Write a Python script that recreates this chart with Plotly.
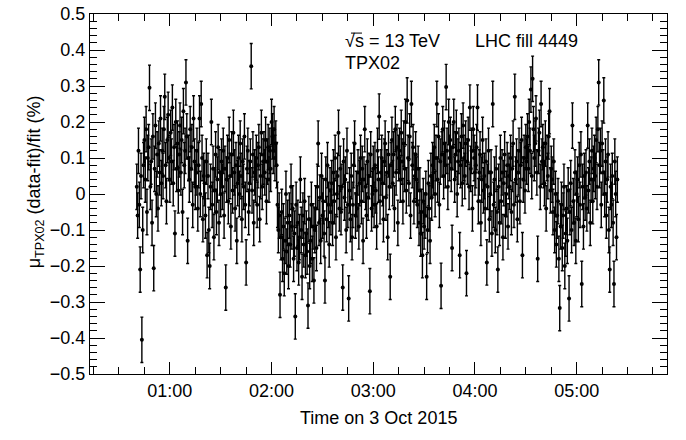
import pandas as pd
import plotly.graph_objects as go

# one point every 30 s, first one at 00:40:30 on 3 Oct 2015
start_time = "2015-10-03 00:40:30"
residual = [
    0.02, -0.06, 0.12, -0.03, -0.21, 0.05, -0.405, -0.1, 0.08, 0.15,
    0.04, 0.18, -0.05, 0.1, 0.13, 0.295, 0.02, 0.09, -0.08, 0.16,
    -0.206, 0.07, 0.19, 0.0, 0.11, -0.04, 0.14, 0.06, 0.21, 0.03,
    0.12, 0.05, 0.18, 0.27, 0.08, -0.02, 0.15, 0.22, 0.1, 0.04,
    0.17, 0.09, 0.24, 0.03, 0.13, -0.11, 0.2, 0.07, 0.14, 0.01,
    0.11, 0.19, 0.06, 0.15, -0.05, 0.23, 0.08, 0.12, 0.31, 0.16,
    -0.13, 0.1, 0.04, 0.18, 0.07, 0.13, -0.03, 0.21, 0.09, 0.02,
    0.06, 0.12, -0.04, 0.08, 0.21, 0.0, 0.25, 0.1, -0.07, 0.05,
    0.03, -0.06, 0.09, -0.17, 0.05, -0.1, -0.2, 0.02, 0.2, -0.03,
    0.07, -0.12, 0.01, 0.11, -0.05, 0.04, 0.13, -0.08, 0.06, 0.0,
    0.09, 0.02, 0.12, -0.06, 0.07, -0.26, 0.04, 0.1, -0.02, 0.15,
    0.05, -0.09, 0.11, 0.01, 0.17, 0.06, -0.04, 0.08, -0.13, 0.03,
    0.1, 0.0, 0.14, 0.05, -0.07, 0.09, 0.02, 0.16, -0.03, -0.19,
    0.07, 0.12, -0.05, 0.03, 0.09, 0.355, 0.01, 0.11, -0.08, 0.06,
    0.04, 0.1, -0.03, 0.08, 0.13, -0.07, 0.05, 0.17, 0.02, 0.09,
    0.11, 0.06, 0.15, -0.02, 0.09, 0.13, 0.04, 0.12, 0.07, 0.2,
    0.16, 0.12, 0.18, 0.1, 0.14, 0.08, -0.03, -0.1, -0.06, -0.28,
    -0.12, -0.05, -0.18, -0.09, -0.22, -0.13, 0.0, -0.16, -0.08, -0.2,
    -0.06, -0.14, 0.02, -0.09, -0.04, -0.18, -0.11, -0.34, -0.03, -0.15,
    -0.08, -0.19, -0.12, 0.04, -0.1, -0.23, -0.06, -0.14, -0.02, -0.17,
    -0.11, -0.16, -0.31, -0.07, -0.2, -0.13, -0.03, -0.18, -0.09, -0.24,
    -0.1, -0.04, -0.15, 0.02, 0.14, -0.08, -0.01, -0.13, 0.05, -0.06,
    -0.02, -0.11, -0.24, 0.04, -0.07, 0.08, -0.03, -0.14, 0.01, -0.05,
    0.03, -0.08, 0.06, -0.02, 0.1, -0.12, 0.0, 0.05, 0.17, -0.04,
    0.07, -0.05, 0.02, -0.26, 0.09, -0.01, 0.04, -0.1, 0.12, -0.03,
    -0.29, 0.01, -0.07, 0.05, -0.12, -0.03, 0.08, 0.14, -0.06, 0.0,
    -0.04, 0.06, -0.09, 0.03, 0.1, -0.02, 0.07, -0.13, 0.04, 0.18,
    0.02, -0.06, 0.09, -0.01, 0.05, -0.27, 0.11, -0.04, 0.0, 0.07,
    -0.03, 0.08, 0.01, -0.09, 0.12, 0.04, 0.215, -0.02, 0.06, 0.1,
    0.03, -0.07, 0.09, 0.14, -0.01, 0.06, -0.12, 0.11, 0.02, -0.23,
    0.08, 0.15, 0.03, 0.11, -0.04, 0.18, 0.06, 0.13, -0.08, 0.1,
    0.12, 0.04, 0.17, 0.09, -0.02, 0.14, 0.07, 0.2, 0.01, 0.26,
    0.1, 0.03, 0.16, -0.06, 0.25, 0.08, 0.13, -0.02, 0.05, 0.11,
    0.04, -0.03, 0.07, -0.08, 0.01, -0.11, -0.05, -0.17, -0.02, -0.09,
    -0.06, 0.0, -0.23, -0.1, 0.03, -0.04, -0.13, 0.05, -0.01, 0.08,
    0.06, 0.13, 0.0, 0.1, 0.25, 0.04, 0.16, -0.03, 0.09, -0.255,
    0.11, 0.18, 0.05, 0.14, 0.08, 0.297, 0.12, 0.02, 0.2, 0.1,
    0.15, 0.07, -0.15, 0.13, 0.2, 0.04, 0.11, 0.17, 0.0, 0.09,
    0.12, -0.17, 0.08, 0.16, 0.03, 0.19, 0.1, 0.05, 0.14, -0.22,
    0.09, 0.15, 0.02, 0.24, 0.07, 0.12, -0.04, 0.18, 0.1, 0.06,
    0.08, 0.13, 0.24, -0.02, 0.06, 0.11, -0.08, 0.04, 0.15, 0.01,
    0.05, -0.04, 0.09, -0.19, 0.02, 0.12, -0.07, 0.0, 0.06, -0.11,
    0.25, -0.03, 0.04, -0.1, 0.07, -0.05, -0.21, 0.02, -0.08, 0.1,
    -0.02, 0.06, -0.12, 0.03, 0.11, -0.06, 0.0, 0.08, -0.09, 0.05,
    0.02, 0.1, -0.05, 0.07, 0.14, -0.03, 0.27, 0.04, 0.09, -0.07,
    0.06, 0.12, -0.02, 0.08, 0.15, -0.17, 0.04, 0.1, 0.01, 0.13,
    0.09, 0.16, 0.07, 0.2, 0.12, 0.29, 0.05, 0.32, 0.18, 0.1,
    0.14, 0.21, 0.06, -0.18, 0.12, 0.17, 0.02, 0.25, 0.09, 0.13,
    0.08, 0.03, 0.14, -0.04, 0.1, 0.05, 0.16, 0.23, 0.01, 0.07,
    0.04, -0.05, 0.09, -0.1, 0.0, -0.14, -0.06, -0.02, -0.18, -0.317,
    -0.09, -0.03, -0.15, -0.06, 0.02, -0.2, -0.11, -0.04, -0.13, 0.01,
    -0.29, -0.05, 0.03, -0.1, 0.19, -0.02, -0.08, 0.06, -0.13, 0.0,
    0.04, -0.07, 0.08, -0.03, 0.11, -0.25, 0.02, -0.09, 0.05, -0.01,
    0.06, -0.04, 0.19, 0.01, 0.09, -0.08, 0.04, 0.12, -0.02, 0.07,
    0.1, 0.05, 0.15, 0.02, 0.18, 0.31, 0.08, 0.12, -0.03, 0.14,
    0.06, 0.26, 0.0, 0.09, -0.06, 0.04, 0.11, -0.1, -0.21, 0.02,
    -0.03, 0.05, -0.08, -0.25, 0.09, 0.0, -0.12, 0.04,
]
stat_error = 0.063  # typical statistical uncertainty, %

times = pd.date_range(start_time, periods=len(residual), freq="30s")

font = "Liberation Sans, Arial, sans-serif"

fig = go.Figure()
fig.add_trace(go.Scatter(
    x=times, y=residual, mode="markers",
    marker=dict(color="black", size=4, symbol="circle"),
    error_y=dict(type="constant", value=stat_error, color="black",
                 thickness=1.4, width=1.5),
    showlegend=False,
))

fig.update_xaxes(
    type="date",
    range=["2015-10-03 00:12:54", "2015-10-03 05:53:17"],
    tick0="2015-10-03 00:00:00", dtick=3600000, tickformat="%H:%M",
    ticks="inside", ticklen=12, tickcolor="black",
    minor=dict(dtick=900000, ticks="inside", ticklen=7, tickcolor="black"),
    showline=True, linecolor="black", linewidth=1, mirror="ticks",
    showgrid=False, zeroline=False, automargin=False,
    ticklabeloverflow="allow",
    tickfont=dict(family=font, size=18, color="black"),
)
fig.update_yaxes(
    range=[-0.5, 0.5], dtick=0.1,
    ticks="inside", ticklen=15, tickcolor="black",
    minor=dict(dtick=0.02, ticks="inside", ticklen=7, tickcolor="black"),
    showline=True, linecolor="black", linewidth=1, mirror="ticks",
    showgrid=False, zeroline=False, automargin=False,
    ticklabeloverflow="allow",
    tickfont=dict(family=font, size=18, color="black"),
)

fig.add_annotation(text="√s = 13 TeV",
                   xref="paper", yref="paper", x=0.4385, y=0.925,
                   xanchor="left", yanchor="middle", showarrow=False,
                   font=dict(family=font, size=18, color="black"))
# overline of the square root over "s"
fig.add_shape(type="line", xref="paper", yref="paper",
              x0=0.4523, x1=0.4714, y0=0.947, y1=0.947,
              line=dict(color="black", width=1))
fig.add_annotation(text="LHC fill 4449",
                   xref="paper", yref="paper", x=0.6638, y=0.925,
                   xanchor="left", yanchor="middle", showarrow=False,
                   font=dict(family=font, size=18, color="black"))
fig.add_annotation(text="TPX02",
                   xref="paper", yref="paper", x=0.4385, y=0.864,
                   xanchor="left", yanchor="middle", showarrow=False,
                   font=dict(family=font, size=18, color="black"))
fig.add_annotation(text="Time on 3 Oct 2015",
                   xref="paper", yref="paper", x=0.5, y=-0.122,
                   xanchor="center", yanchor="middle", showarrow=False,
                   font=dict(family=font, size=18, color="black"))
fig.add_annotation(text="μ<sub>TPX02</sub> (data-fit)/fit (%)", textangle=-90,
                   xref="paper", yref="paper", x=-0.095, y=0.533,
                   xanchor="center", yanchor="middle", showarrow=False,
                   font=dict(family=font, size=18, color="black"))

fig.update_layout(
    width=686, height=440,
    margin=dict(l=90, r=19, t=14, b=66),
    paper_bgcolor="white", plot_bgcolor="white",
    font=dict(family=font, size=18, color="black"),
)

# drop the default 8 px page margin so the figure sits at the window corner
fig.write_html("out.html", config={"displayModeBar": False},
               post_script="document.body.style.margin = '0';")
